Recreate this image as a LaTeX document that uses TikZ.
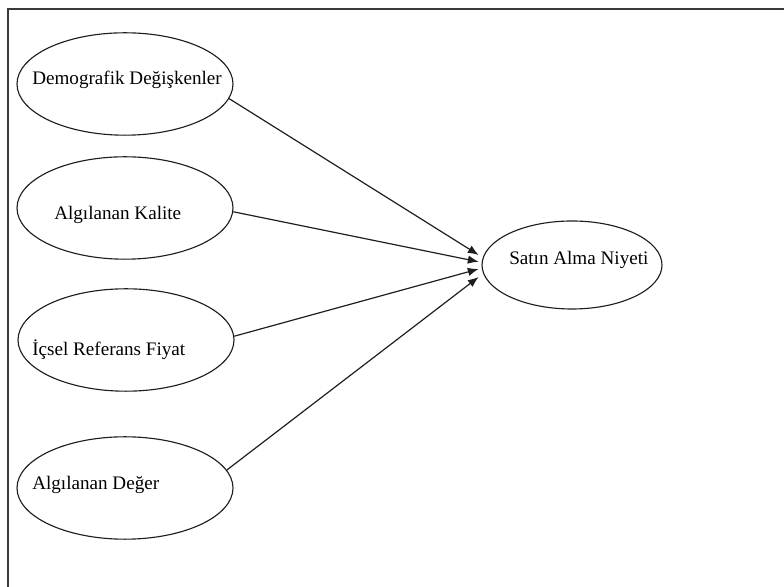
\documentclass[tikz,border=0pt]{standalone}
\usepackage{fontspec}
\setmainfont{Liberation Serif}
\usepackage{tikz}
\usetikzlibrary{arrows.meta, positioning, shapes.geometric, calc}
\definecolor{mline}{HTML}{1E1E1E}
\definecolor{mframe}{HTML}{3A3A3A}
\tikzset{
  oval/.style={ellipse, draw=mline, line width=0.8pt, fill=white,
               minimum width=5.4cm, minimum height=2.56cm, inner sep=0pt},
  lbl/.style={anchor=west, inner sep=0pt, font=\fontsize{13.6}{16}\selectfont},
  arr/.style={-{Latex[length=2.7mm, width=2.1mm]}, line width=0.85pt, mline},
}
\begin{document}
\begin{tikzpicture}
  \clip (0,0) rectangle (19.6,14.675);
  \useasboundingbox (0,0) rectangle (19.6,14.675);
  % cerceve
  \draw[mframe, line width=1pt] (0.2,-1) -- (0.2,14.45) -- (20.5,14.45);
  % bagimsiz degiskenler
  \node[oval] (dem) at (3.125,12.575) {};
  \node[oval] (kal) at (3.125,9.475) {};
  \node[oval] (ref) at (3.15,6.175) {};
  \node[oval] (deg) at (3.125,2.475) {};
  \node[lbl] (dem-t) at (0.8,12.675) {Demografik Değişkenler};
  \node[lbl] (kal-t) at (1.35,9.3) {Algılanan Kalite};
  \node[lbl] (ref-t) at (0.8,5.925) {İçsel Referans Fiyat};
  \node[lbl] (deg-t) at (0.8,2.55) {Algılanan Değer};
  % bagimli degisken
  \node[oval, minimum width=4.5cm, minimum height=2.2cm] (niyet) at (14.3,8.05) {};
  \node[lbl] (niyet-t) at (12.725,8.175) {Satın Alma Niyeti};
  % oklar
  \draw[arr] (dem.-8) -- ([xshift=-0.07cm, yshift=0.25cm]niyet.west);
  \draw[arr] (kal.-2) -- ([xshift=-0.07cm, yshift=0.08cm]niyet.west);
  \draw[arr] (ref.2) -- ([xshift=-0.07cm, yshift=-0.1cm]niyet.west);
  \draw[arr] (deg.10) -- ([xshift=-0.07cm, yshift=-0.3cm]niyet.west);
\end{tikzpicture}
\end{document}
